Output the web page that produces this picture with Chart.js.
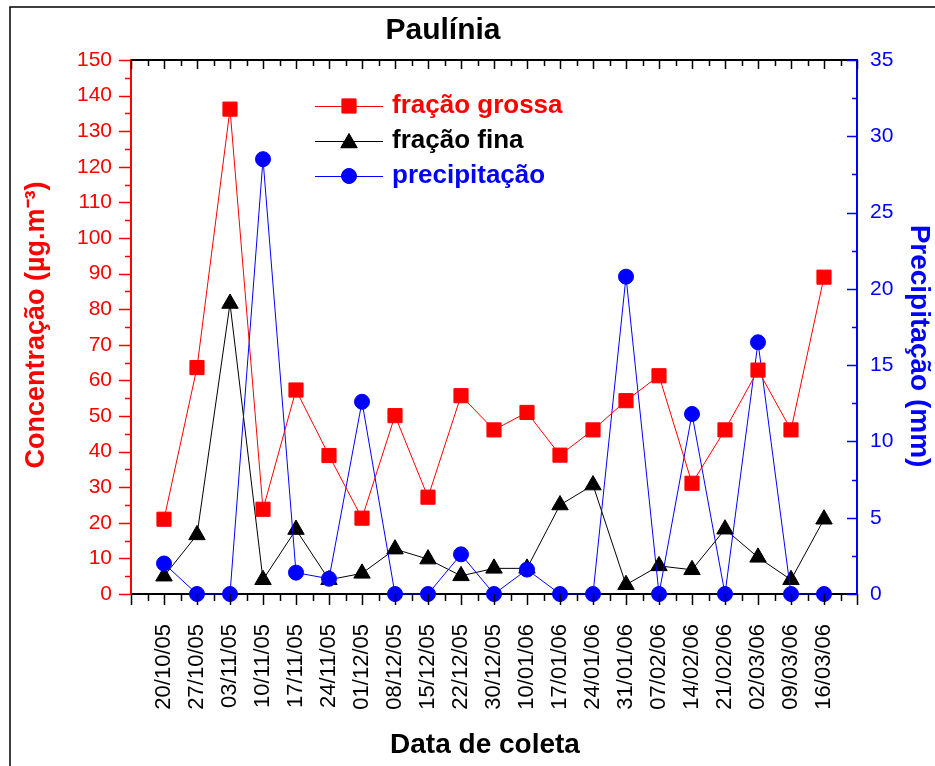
<!DOCTYPE html>
<html>
<head>
<meta charset="utf-8">
<script src="https://cdn.jsdelivr.net/npm/chart.js@4"></script>
<style>
  html, body { margin: 0; padding: 0; background: #fff; }
  #chart { display: block; }
</style>
</head>
<body>
<canvas id="chart" width="935" height="766"></canvas>
<script>
// Sampling dates (x axis)
const dates = [
  '20/10/05', '27/10/05', '03/11/05', '10/11/05', '17/11/05', '24/11/05', '01/12/05',
  '08/12/05', '15/12/05', '22/12/05', '30/12/05', '10/01/06', '17/01/06', '24/01/06',
  '31/01/06', '07/02/06', '14/02/06', '21/02/06', '02/03/06', '09/03/06', '16/03/06'
];

// Concentration (ug/m3), left axis
const fracaoGrossa = [21.0, 63.6, 136.2, 23.8, 57.3, 38.9, 21.3, 50.1, 27.2, 55.7, 46.1,
  51.0, 39.0, 46.1, 54.3, 61.3, 31.1, 46.1, 62.9, 46.1, 89.0];
const fracaoFina = [5.0, 16.6, 81.6, 4.0, 18.1, 4.0, 5.8, 12.6, 9.8, 5.1, 7.2,
  7.2, 25.0, 30.6, 2.6, 7.9, 6.8, 18.2, 10.3, 4.0, 21.0];

// Rainfall (mm), right axis
const precipitacao = [2.0, 0, 0, 28.5, 1.4, 1.0, 12.6, 0, 0, 2.6, 0,
  1.6, 0, 0, 20.8, 0, 11.8, 0, 16.5, 0, 0];

// Axis ranges
const LEFT_MAX = 150;
const RIGHT_MAX = 35;

const RED = '#ff0000';
const BLUE = '#0000ff';
const BLACK = '#000000';
const FONT = 'Arial, "Liberation Sans", sans-serif';

function toPoints(values) {
  return values.map((v, i) => ({ x: i + 1, y: v }));
}

function drawText(ctx, text, x, y, color, font, angle) {
  ctx.save();
  ctx.translate(x, y);
  ctx.rotate(angle || 0);
  ctx.fillStyle = color;
  ctx.font = font;
  ctx.textAlign = 'center';
  ctx.textBaseline = 'middle';
  ctx.fillText(text, 0, 0);
  ctx.restore();
}

// Ticks, frame, titles and the legend drawn over the chart
const framePlugin = {
  id: 'framePlugin',
  afterDraw(chart) {
    const { ctx, chartArea: a, scales } = chart;
    const x = scales.x, y = scales.y, y1 = scales.y1;
    ctx.save();

    // outer border of the figure
    ctx.strokeStyle = BLACK;
    ctx.lineWidth = 1.5;
    ctx.beginPath();
    ctx.moveTo(10, 766);
    ctx.lineTo(10, 7);
    ctx.lineTo(935, 7);
    ctx.stroke();

    // top axis line
    ctx.lineWidth = 2;
    ctx.beginPath();
    ctx.moveTo(a.left, a.top);
    ctx.lineTo(a.right, a.top);
    ctx.stroke();

    // x ticks, bottom outward and top inward
    ctx.lineWidth = 1.5;
    for (let v = 0; v <= dates.length + 1; v += 0.5) {
      const px = Math.round(x.getPixelForValue(v)) + 0.5;
      const major = v % 1 === 0;
      ctx.beginPath();
      ctx.moveTo(px, a.bottom);
      ctx.lineTo(px, a.bottom + (major ? 11 : 7));
      ctx.moveTo(px, a.top);
      ctx.lineTo(px, a.top + (major ? 9 : 6));
      ctx.stroke();
    }

    // left ticks, outward
    ctx.strokeStyle = RED;
    for (let v = 0; v <= LEFT_MAX; v += 5) {
      const py = Math.round(y.getPixelForValue(v)) + 0.5;
      ctx.beginPath();
      ctx.moveTo(a.left, py);
      ctx.lineTo(a.left - (v % 10 === 0 ? 12 : 6), py);
      ctx.stroke();
    }

    // right ticks, inward
    ctx.strokeStyle = BLUE;
    for (let v = 0; v <= RIGHT_MAX; v += 2.5) {
      const py = Math.round(y1.getPixelForValue(v)) + 0.5;
      ctx.beginPath();
      ctx.moveTo(a.right, py);
      ctx.lineTo(a.right - (v % 5 === 0 ? 10 : 5), py);
      ctx.stroke();
    }

    // titles
    drawText(ctx, 'Paulínia', 443, 31, BLACK, 'bold 30px ' + FONT);
    drawText(ctx, 'Concentração (µg.m⁻³)', 37, 325, RED, 'bold 27px ' + FONT, -Math.PI / 2);
    drawText(ctx, 'Precipitação (mm)', 919, 346, BLUE, 'bold 28px ' + FONT, Math.PI / 2);
    drawText(ctx, 'Data de coleta', 485, 745, BLACK, 'bold 28px ' + FONT);

    // legend
    chart.data.datasets.forEach((ds, i) => {
      const ly = 106 + i * 35;
      ctx.strokeStyle = ds.borderColor;
      ctx.lineWidth = 1;
      ctx.beginPath();
      ctx.moveTo(315, ly + 0.5);
      ctx.lineTo(383, ly + 0.5);
      ctx.stroke();
      Chart.helpers.drawPoint(ctx, {
        pointStyle: ds.pointStyle,
        radius: ds.pointRadius,
        borderWidth: 1
      }, 349, ly + (ds.pointStyle === 'triangle' ? 2 : 0));
      ctx.fillStyle = ds.pointBackgroundColor;
      ctx.fill();
      ctx.fillStyle = ds.borderColor;
      ctx.font = 'bold 26px ' + FONT;
      ctx.textBaseline = 'middle';
      ctx.textAlign = 'left';
      ctx.fillText(ds.label, 392, ly);
    });

    ctx.restore();
  }
};

const ctx = document.getElementById('chart').getContext('2d');

new Chart(ctx, {
  type: 'line',
  data: {
    datasets: [
      {
        label: 'fração grossa',
        data: toPoints(fracaoGrossa),
        yAxisID: 'y',
        borderColor: RED,
        backgroundColor: RED,
        pointBackgroundColor: RED,
        pointBorderColor: RED,
        pointStyle: 'rect',
        pointRadius: 10,
        borderWidth: 1,
        order: 0,
        clip: false
      },
      {
        label: 'fração fina',
        data: toPoints(fracaoFina),
        yAxisID: 'y',
        borderColor: BLACK,
        backgroundColor: BLACK,
        pointBackgroundColor: BLACK,
        pointBorderColor: BLACK,
        pointStyle: 'triangle',
        pointRadius: 9.5,
        borderWidth: 1,
        order: 2,
        clip: false
      },
      {
        label: 'precipitação',
        data: toPoints(precipitacao),
        yAxisID: 'y1',
        borderColor: BLUE,
        backgroundColor: BLUE,
        pointBackgroundColor: BLUE,
        pointBorderColor: BLUE,
        pointStyle: 'circle',
        pointRadius: 7.5,
        borderWidth: 1,
        order: 1,
        clip: false
      }
    ]
  },
  options: {
    responsive: false,
    animation: false,
    layout: { padding: { top: 60 } },
    plugins: {
      legend: { display: false },
      tooltip: { enabled: false },
      title: { display: false }
    },
    scales: {
      x: {
        type: 'linear',
        min: 0,
        max: dates.length + 1,
        afterFit: (s) => { s.height = 172; },
        border: { display: true, color: BLACK, width: 2 },
        grid: { drawOnChartArea: false, drawTicks: true, tickLength: 12, color: 'rgba(0,0,0,0)' },
        ticks: {
          stepSize: 1,
          autoSkip: false,
          maxRotation: 90,
          minRotation: 90,
          padding: 18,
          color: BLACK,
          font: { family: FONT, size: 22 },
          callback: (v) => (v >= 1 && v <= dates.length) ? dates[v - 1] : ''
        }
      },
      y: {
        position: 'left',
        min: 0,
        max: LEFT_MAX,
        afterFit: (s) => { s.width = 131; },
        border: { display: true, color: RED, width: 2 },
        grid: { drawOnChartArea: false, drawTicks: true, tickLength: 12, color: 'rgba(0,0,0,0)' },
        ticks: {
          stepSize: 10,
          padding: 7,
          color: RED,
          font: { family: FONT, size: 21 }
        }
      },
      y1: {
        position: 'right',
        min: 0,
        max: RIGHT_MAX,
        afterFit: (s) => { s.width = 78; },
        border: { display: true, color: BLUE, width: 2 },
        grid: { drawOnChartArea: false, drawTicks: true, tickLength: 1, color: 'rgba(0,0,0,0)' },
        ticks: {
          stepSize: 5,
          padding: 12,
          color: BLUE,
          font: { family: FONT, size: 21 }
        }
      }
    }
  },
  plugins: [framePlugin]
});
</script>
</body>
</html>
